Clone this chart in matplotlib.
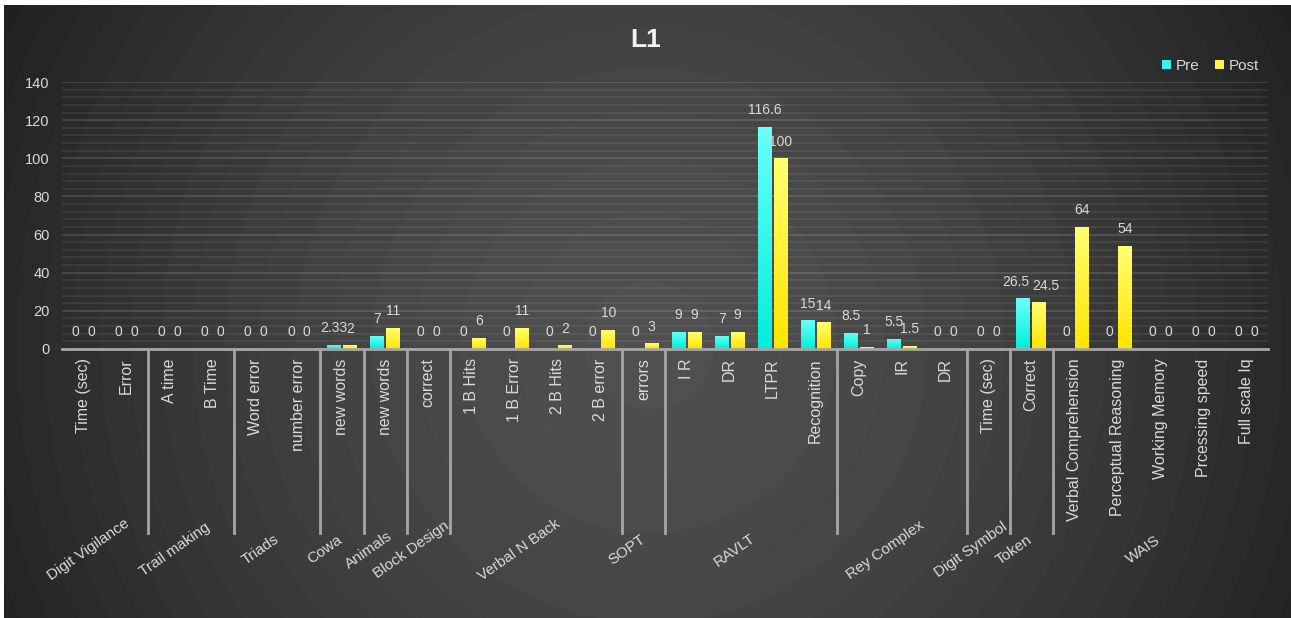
import numpy as np
import matplotlib.pyplot as plt
from matplotlib.colors import LinearSegmentedColormap
from matplotlib.transforms import blended_transform_factory
from matplotlib.ticker import MultipleLocator

plt.rcParams['font.family'] = ['Liberation Sans', 'DejaVu Sans']

# datos del grafico
groups = ['Digit Vigilance', 'Trail making', 'Triads', 'Cowa', 'Animals', 'Block Design',
          'Verbal N Back', 'SOPT', 'RAVLT', 'Rey Complex', 'Digit Symbol', 'Token', 'WAIS']
group_sizes = [2, 2, 2, 1, 1, 1, 4, 1, 4, 3, 1, 1, 5]
subs = ['Time (sec)', 'Error', 'A time', 'B Time', 'Word error', 'number error',
        'new words', 'new words', 'correct', '1 B Hits', '1 B Error', '2 B Hits', '2 B error',
        'errors', 'I R', 'DR', 'LTPR', 'Recognition', 'Copy', 'IR', 'DR', 'Time (sec)',
        'Correct', 'Verbal Comprehension', 'Perceptual Reasoning', 'Working Memory',
        'Prcessing speed', 'Full scale Iq']
pre = [0, 0, 0, 0, 0, 0, 2.33, 7, 0, 0, 0, 0, 0, 0, 9, 7, 116.6, 15, 8.5, 5.5, 0, 0, 26.5,
       0, 0, 0, 0, 0]
post = [0, 0, 0, 0, 0, 0, 2, 11, 0, 6, 11, 2, 10, 3, 9, 9, 100, 14, 1, 1.5, 0, 0, 24.5,
        64, 54, 0, 0, 0]

txt = '#d9d9d9'
W, H = 1291, 618
fig = plt.figure(figsize=(W / 100, H / 100), dpi=100, facecolor='white')

# fondo con degradado radial
bg = fig.add_axes([4 / W, 0, 1 - 4 / W, 1 - 5 / H])
yy, xx = np.mgrid[0:613, 0:1287]
r = np.sqrt((xx - 645) ** 2 + (yy - 340) ** 2) / 730
v = 80 - 48 * np.clip(r, 0, 1) ** 1.5
v = np.round(v / 2.5) * 2.5
img = np.dstack([v, v, v]) / 255
bg.imshow(img, aspect='auto', interpolation='bilinear')
bg.axis('off')

ax = fig.add_axes([62 / W, 1 - 349 / H, (1268 - 62) / W, (349 - 82) / H])
ax.patch.set_alpha(0)
x = np.arange(len(subs))
bw = 0.32
b1 = ax.bar(x - 0.185, pre, bw, color='#33f7ee', zorder=2, label='Pre')
b2 = ax.bar(x + 0.185, post, bw, color='#fff24a', zorder=2, label='Post')

cm_pre = LinearSegmentedColormap.from_list('pre', ['#00efd9', '#6bfffb'])
cm_post = LinearSegmentedColormap.from_list('post', ['#ffe500', '#ffff70'])
grad = np.linspace(0, 1, 64).reshape(-1, 1)
for bars, cm in [(b1, cm_pre), (b2, cm_post)]:
    for rect in bars:
        h = rect.get_height()
        if h <= 0:
            continue
        x0 = rect.get_x()
        im = ax.imshow(grad, extent=[x0, x0 + rect.get_width(), 0, h], origin='lower',
                       aspect='auto', cmap=cm, zorder=3)
        im.set_clip_path(rect)

ax.set_xlim(-0.5, len(subs) - 0.5)
ax.set_ylim(0, 140)
ax.set_yticks(range(0, 141, 20))
ax.yaxis.set_minor_locator(MultipleLocator(4))
ax.grid(which='major', axis='y', color='white', alpha=0.15, lw=1.2)
ax.grid(which='minor', axis='y', color='white', alpha=0.08, lw=1.2)
ax.set_axisbelow(True)
ax.set_xticks([])
ax.tick_params(axis='y', which='both', length=0, labelsize=10.5, labelcolor=txt, pad=9)
for s in ax.spines.values():
    s.set_visible(False)
ax.axhline(0, color='#a6a6a6', lw=2, zorder=4, clip_on=False)

# etiquetas de valores (se separan si las dos son largas)
for i in range(len(subs)):
    lp, lq = f'{pre[i]:g}', f'{post[i]:g}'
    dx = 7 if len(lp) >= 4 and len(lq) >= 4 and abs(pre[i] - post[i]) < 5 else 0
    for rect, val, lab, sh in [(b1[i], pre[i], lp, -dx), (b2[i], post[i], lq, dx)]:
        ax.annotate(lab, (rect.get_x() + rect.get_width() / 2, val),
                    xytext=(sh * 0.72, 12), textcoords='offset points', ha='center',
                    va='center', fontsize=10, color=txt, zorder=5)

trans = blended_transform_factory(ax.transData, ax.transAxes)
for i, s in enumerate(subs):
    ax.text(i, -0.035, s, transform=trans, rotation=90, ha='center', va='top',
            fontsize=11.5, color=txt)

# separadores y nombres de grupo
edges = np.cumsum([0] + group_sizes)
for b in edges[1:-1]:
    ax.plot([b - 0.5, b - 0.5], [0, -0.69], transform=trans, color='#a6a6a6', lw=2,
            clip_on=False)
for g, a, b in zip(groups, edges[:-1], edges[1:]):
    gc = (a + b - 1) / 2
    ax.annotate(g, (gc, -0.753), xycoords=trans, xytext=(-12, 0), textcoords='offset points',
                rotation=35, rotation_mode='anchor', ha='center', va='center',
                fontsize=11, color=txt, annotation_clip=False)

fig.text(0.5, 1 - 40 / H, 'L1', ha='center', va='center', fontsize=19, fontweight='bold',
         color='#f2f2f2')
leg = ax.legend(loc='lower right', bbox_to_anchor=(1.0, 1.0), ncol=2, frameon=False,
                fontsize=11, labelcolor=txt, handlelength=0.6, handleheight=0.6,
                handletextpad=0.3, columnspacing=1.0, borderaxespad=0.2)

fig.savefig('out.png', dpi=100, facecolor=fig.get_facecolor())
